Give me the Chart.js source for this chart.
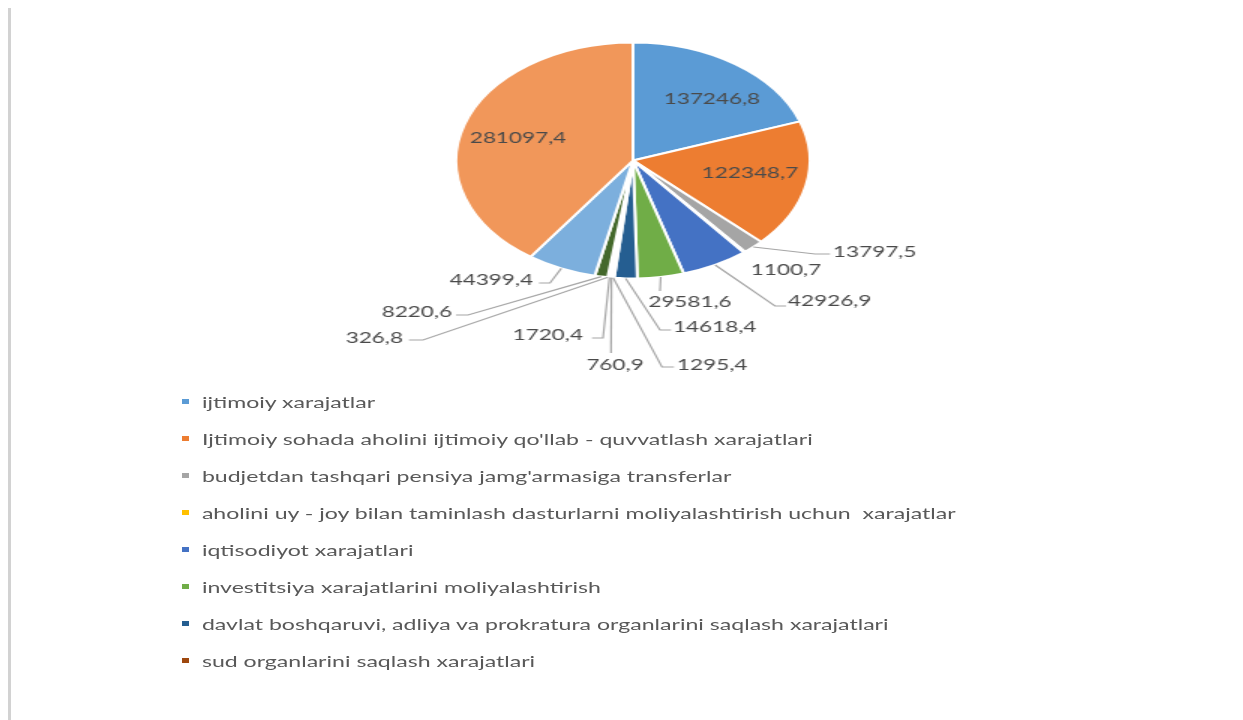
<!DOCTYPE html>
<html>
<head>
<meta charset="utf-8">
<script src="https://cdn.jsdelivr.net/npm/chart.js@4.4.1/dist/chart.umd.min.js"></script>
<style>
  body { margin: 0; background: #fff; width: 1243px; height: 720px; overflow: hidden; position: relative; font-family: Lato, "Open Sans", sans-serif; }
  .edge { position: absolute; left: 8px; top: 8px; bottom: 0; width: 3px; background: #d2d2d2; }
  /* the picture is stretched sideways, so the whole chart is drawn narrow and widened */
  #stage { position: absolute; left: 0; top: 0; width: 829px; height: 720px; transform: scaleX(1.5); transform-origin: 0 0; }
  #pieBox { position: absolute; left: 0; top: 0; width: 829px; height: 390px; }
  #legend { position: absolute; left: 121px; top: 383px; }
  #legend ul { list-style: none; margin: 0; padding: 0; }
  #legend li { height: 37px; display: flex; align-items: center; font-size: 15.4px; color: #595959; white-space: pre; }
  #legend li span { display: inline-block; width: 4.6px; height: 5.5px; margin-right: 9px; }
</style>
</head>
<body>
<div class="edge"></div>
<div id="stage">
  <div id="pieBox"><canvas id="budgetPie"></canvas></div>
  <div id="legend"><ul></ul></div>
</div>
<script>
const STRETCH = 1.5;

// legend names (only these eight are shown in the picture)
const categories = [
  "ijtimoiy xarajatlar",
  "Ijtimoiy sohada aholini ijtimoiy qo'llab - quvvatlash xarajatlari",
  "budjetdan tashqari pensiya jamg'armasiga transferlar",
  "aholini uy - joy bilan taminlash dasturlarni moliyalashtirish uchun  xarajatlar",
  "iqtisodiyot xarajatlari",
  "investitsiya xarajatlarini moliyalashtirish",
  "davlat boshqaruvi, adliya va prokratura organlarini saqlash xarajatlari",
  "sud organlarini saqlash xarajatlari"
];

// slice values, clockwise from the top
const values = [
  137246.8, 122348.7, 13797.5, 1100.7, 42926.9, 29581.6, 14618.4,
  1295.4, 760.9, 1720.4, 326.8, 8220.6, 44399.4, 281097.4
];

const sliceColors = [
  '#5b9bd5', '#ed7d31', '#a5a5a5', '#ffc000', '#4472c4', '#70ad47', '#255e91',
  '#9e480e', '#636363', '#997300', '#264478', '#43682b', '#7cafdd', '#f1975a'
];

// where each value label sits in the picture (page pixels) and the bends of its leader line
const labelSpots = [
  { x: 712, y: 99, align: 'center' },
  { x: 750, y: 173, align: 'center' },
  { x: 833, y: 252, align: 'left', bends: [[815, 254], [830, 254]] },
  { x: 786, y: 270, align: 'center' },
  { x: 788, y: 301, align: 'left', bends: [[775, 306], [786, 306]] },
  { x: 690, y: 302, align: 'center', bends: [[660, 291]] },
  { x: 673, y: 327, align: 'left', bends: [[660, 330], [671, 330]] },
  { x: 677, y: 365, align: 'left', bends: [[662, 367], [674, 367]] },
  { x: 615, y: 365, align: 'center', bends: [[611, 353]] },
  { x: 583, y: 335, align: 'right', bends: [[603, 338], [592, 338]] },
  { x: 403, y: 338, align: 'right', bends: [[423, 340], [409, 340]] },
  { x: 452, y: 312, align: 'right', bends: [[468, 315], [456, 315]] },
  { x: 533, y: 280, align: 'right', bends: [[550, 283], [539, 283]] },
  { x: 518, y: 138, align: 'center' }
];

// 137246.8 -> "137246,8"
function formatValue(v) {
  return v.toFixed(1).replace('.', ',');
}

// Value labels with leader lines, anchored on the arcs Chart.js laid out
const sliceLabels = {
  id: 'sliceLabels',
  afterDatasetsDraw(chart) {
    const ctx = chart.ctx;
    const arcs = chart.getDatasetMeta(0).data;
    ctx.save();
    ctx.font = '15px Lato';
    ctx.textBaseline = 'middle';
    arcs.forEach((arc, i) => {
      const spot = labelSpots[i];
      if (spot.bends) {
        const mid = (arc.startAngle + arc.endAngle) / 2;
        ctx.beginPath();
        ctx.moveTo(arc.x + Math.cos(mid) * arc.outerRadius, arc.y + Math.sin(mid) * arc.outerRadius);
        spot.bends.forEach(([bx, by]) => ctx.lineTo(bx / STRETCH, by));
        ctx.strokeStyle = '#a6a6a6';
        ctx.lineWidth = 1.2;
        ctx.stroke();
      }
      ctx.fillStyle = '#4a4a4a';
      ctx.textAlign = spot.align;
      ctx.fillText(formatValue(values[i]), spot.x / STRETCH, spot.y);
    });
    ctx.restore();
  }
};

// One legend entry per row, built from the chart's own legend items
const htmlLegend = {
  id: 'htmlLegend',
  afterUpdate(chart) {
    const list = document.querySelector('#legend ul');
    list.innerHTML = '';
    chart.options.plugins.legend.labels.generateLabels(chart).forEach(item => {
      const li = document.createElement('li');
      const box = document.createElement('span');
      box.style.background = item.fillStyle;
      li.appendChild(box);
      li.appendChild(document.createTextNode(item.text));
      list.appendChild(li);
    });
  }
};

new Chart(document.getElementById('budgetPie'), {
  type: 'pie',
  data: {
    labels: categories,
    datasets: [{
      data: values,
      backgroundColor: sliceColors,
      borderColor: '#ffffff',
      borderWidth: 2
    }]
  },
  options: {
    responsive: true,
    maintainAspectRatio: false,
    animation: false,
    radius: 118,
    layout: { padding: { left: 272, right: 257, top: 10, bottom: 79 } },
    plugins: {
      legend: { display: false },
      tooltip: { enabled: false }
    }
  },
  plugins: [sliceLabels, htmlLegend]
});
</script>
</body>
</html>
